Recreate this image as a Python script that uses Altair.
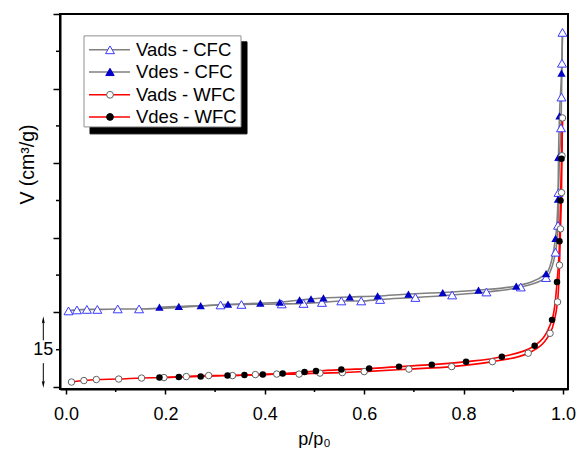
import altair as alt
import pandas as pd

# ---- data (x = p/p0, y = V in cm3/g, offset curves) ----
cfc_ads_x = [0.005, 0.022, 0.042, 0.063, 0.104, 0.147, 0.311, 0.353, 0.434, 0.478, 0.515,
             0.554, 0.594, 0.632, 0.703, 0.777, 0.846, 0.915, 0.966, 0.985, 0.990, 0.991,
             0.993, 0.996, 0.997, 0.998, 0.999]
cfc_ads_y = [15.3, 15.5, 15.6, 15.6, 15.7, 15.7, 16.5, 16.6, 16.7, 16.8, 17.0,
             17.3, 17.3, 17.6, 18.0, 18.5, 19.1, 20.1, 22.0, 27.1, 32.5, 39.1,
             46.3, 52.1, 58.3, 65.1, 71.3]

cfc_des_x = [0.188, 0.227, 0.271, 0.326, 0.391, 0.430, 0.470, 0.493, 0.518, 0.571, 0.627,
             0.689, 0.758, 0.830, 0.906, 0.966, 0.985, 0.990, 0.991, 0.993, 0.997]
cfc_des_y = [16.05, 16.2, 16.35, 16.65, 16.85, 17.05, 17.5, 17.7, 17.9, 18.1, 18.3,
             18.7, 19.0, 19.5, 20.3, 22.8, 29.9, 37.8, 46.2, 54.5, 63.1]

wfc_ads_x = [0.011, 0.036, 0.061, 0.106, 0.152, 0.197, 0.242, 0.287, 0.335, 0.381, 0.424,
             0.469, 0.511, 0.556, 0.600, 0.690, 0.776, 0.858, 0.930, 0.974, 0.989, 0.993,
             0.995, 0.997, 0.998, 0.999]
wfc_ads_y = [1.0, 1.3, 1.5, 1.6, 1.8, 1.9, 2.1, 2.3, 2.3, 2.5, 2.6,
             2.6, 2.8, 2.9, 3.1, 3.6, 4.1, 5.1, 6.8, 10.8, 17.1, 24.5,
             31.8, 39.1, 46.5, 54.1]

wfc_des_x = [0.188, 0.227, 0.271, 0.325, 0.359, 0.396, 0.436, 0.480, 0.503, 0.554, 0.610,
             0.670, 0.736, 0.805, 0.877, 0.943, 0.978, 0.988, 0.993, 0.995, 0.997]
wfc_des_y = [1.9, 2.0, 2.1, 2.3, 2.4, 2.5, 2.7, 3.0, 3.2, 3.5, 3.7,
             4.1, 4.5, 5.1, 6.1, 8.3, 13.5, 21.1, 29.3, 37.5, 45.9]

legend_labels = ["Vads - CFC", "Vdes - CFC", "Vads - WFC", "Vdes - WFC"]
legend_line_colors = ["#808080", "#808080", "#ff0000", "#ff0000"]
legend_shapes = ["triangle-up", "triangle-up", "circle", "circle"]
legend_fills = ["#ffffff", "#0000c8", "#ffffff", "#000000"]
legend_strokes = ["#3a3aff", "#0000c8", "#606060", "#000000"]
legend_sizes = [80, 70, 46, 46]

x_major = [0.0, 0.2, 0.4, 0.6, 0.8, 1.0]
x_minor = [0.1, 0.3, 0.5, 0.7, 0.9]
y_major = [0, 15, 30, 45, 60, 75]
y_minor = [7.5, 22.5, 37.5, 52.5, 67.5]
offset_label = "15"

FONT = "Liberation Sans"
W, H = 508, 375

def frame(xs, ys):
    return pd.DataFrame({"x": xs, "y": ys, "order": list(range(len(xs)))})

cfc_ads = frame(cfc_ads_x, cfc_ads_y)
cfc_des = frame(cfc_des_x, cfc_des_y)
wfc_ads = frame(wfc_ads_x, wfc_ads_y)
wfc_des = frame(wfc_des_x, wfc_des_y)
# desorption branches start from the top adsorption point
cfc_des_line = frame(cfc_des_x + [cfc_ads_x[-1]], cfc_des_y + [cfc_ads_y[-1]])
wfc_des_line = frame(wfc_des_x + [wfc_ads_x[-1]], wfc_des_y + [wfc_ads_y[-1]])

xs = alt.Scale(domain=[-0.0121, 1.0101], nice=False, zero=False)
ys = alt.Scale(domain=[-0.4, 75], nice=False, zero=False)

x_axis = alt.Axis(
    values=x_major, format=".1f", tickSize=5,
    title="p/p\u2080", titleBaseline="alphabetic", titleY=55,
    labelPadding=11, labelFlush=False,
)
y_axis = alt.Axis(
    values=y_major, labels=False, tickSize=7,
    title="V (cm\u00b3/g)", titleAngle=-90, titleAlign="center", titleBaseline="alphabetic",
    titleX=-27, titleY=150, titleFontSize=19.5,
)

def X(field="x", axis=None):
    if axis is None:
        return alt.X(f"{field}:Q", scale=xs)
    return alt.X(f"{field}:Q", scale=xs, axis=axis)

def Y(field="y", axis=None):
    if axis is None:
        return alt.Y(f"{field}:Q", scale=ys)
    return alt.Y(f"{field}:Q", scale=ys, axis=axis)

layers = []
# lines
layers.append(alt.Chart(cfc_ads).mark_line(color="#808080", strokeWidth=1.6, interpolate="monotone").encode(
    x=X(axis=x_axis), y=Y(axis=y_axis), order="order:Q"))
layers.append(alt.Chart(cfc_des_line).mark_line(color="#808080", strokeWidth=1.6, interpolate="monotone").encode(
    x=X(), y=Y(), order="order:Q"))
layers.append(alt.Chart(wfc_ads).mark_line(color="#ff0000", strokeWidth=1.6, interpolate="monotone").encode(
    x=X(), y=Y(), order="order:Q"))
layers.append(alt.Chart(wfc_des_line).mark_line(color="#ff0000", strokeWidth=1.6, interpolate="monotone").encode(
    x=X(), y=Y(), order="order:Q"))
# markers
layers.append(alt.Chart(cfc_ads).mark_point(shape="triangle-up", size=80, filled=False,
              stroke="#3a3aff", fill="#ffffff", fillOpacity=1, strokeWidth=1, opacity=1).encode(x=X(), y=Y()))
layers.append(alt.Chart(cfc_des).mark_point(shape="triangle-up", size=70, filled=True,
              color="#0000c8", opacity=1).encode(x=X(), y=Y()))
layers.append(alt.Chart(wfc_ads).mark_point(shape="circle", size=42, filled=False,
              stroke="#606060", fill="#ffffff", fillOpacity=1, strokeWidth=1, opacity=1).encode(x=X(), y=Y()))
layers.append(alt.Chart(wfc_des).mark_point(shape="circle", size=42, filled=True,
              color="#000000", opacity=1).encode(x=X(), y=Y()))

# minor ticks (outside the plot area)
xmin_df = pd.DataFrame({"x": x_minor})
layers.append(alt.Chart(xmin_df).mark_rule(color="black", strokeWidth=1.5).encode(
    x=X(), y=alt.value(H), y2=alt.value(H + 3)))
ymin_df = pd.DataFrame({"y": y_minor})
layers.append(alt.Chart(ymin_df).mark_rule(color="black", strokeWidth=1.5).encode(
    y=Y(), x=alt.value(0), x2=alt.value(-4)))

# offset annotation (arrow spanning 15 units on the V axis)
ann_x = -0.0457
arrow_df = pd.DataFrame({"x": [ann_x, ann_x], "y": [9.4, 4.8], "y2": [13.4, 0.6]})
layers.append(alt.Chart(arrow_df).mark_rule(color="black", strokeWidth=1).encode(
    x=X(), y=Y(), y2="y2:Q"))
heads_df = pd.DataFrame({"x": [ann_x], "y": [13.4]})
heads_df2 = pd.DataFrame({"x": [ann_x], "y": [0.6]})
layers.append(alt.Chart(heads_df).mark_point(
    shape="M0,-1L-0.38,0.8L0,0.45L0.38,0.8Z", size=64, filled=True, color="black", opacity=1
).encode(x=X(), y=Y()))
layers.append(alt.Chart(heads_df2).mark_point(
    shape="M0,1L-0.38,-0.8L0,-0.45L0.38,-0.8Z", size=64, filled=True, color="black", opacity=1
).encode(x=X(), y=Y()))
label_df = pd.DataFrame({"x": [ann_x], "y": [7.5], "t": [offset_label]})
layers.append(alt.Chart(label_df).mark_text(font=FONT, fontSize=18, color="black",
              align="center", baseline="middle").encode(x=X(), y=Y(), text="t:N"))

# legend (box with drop shadow, line + marker samples)
box = pd.DataFrame({"x": [0.0483, 0.0362], "x2": [0.3642, 0.3521],
                    "y": [50.9, 52.3], "y2": [69.4, 70.6],
                    "fill": ["#000000", "#ffffff"], "stroke": ["#000000", "#909090"]})
layers.append(alt.Chart(box).mark_rect(strokeWidth=1).encode(
    x=X(), x2="x2:Q", y=Y(), y2="y2:Q",
    fill=alt.Fill("fill:N", scale=None), stroke=alt.Stroke("stroke:N", scale=None),
    order=alt.Order("y:Q")))
row_y = [67.8, 63.35, 58.75, 54.3]
leg = pd.DataFrame({
    "label": legend_labels, "lc": legend_line_colors, "shape": legend_shapes,
    "fill": legend_fills, "stroke": legend_strokes, "size": legend_sizes,
    "y": row_y, "x": [0.0463] * 4, "x2": [0.1288] * 4, "xm": [0.0885] * 4, "xt": [0.1408] * 4,
})
layers.append(alt.Chart(leg).mark_rule(strokeWidth=1.6).encode(
    x=X(), x2="x2:Q", y=Y(), color=alt.Color("lc:N", scale=None)))
layers.append(alt.Chart(leg).transform_calculate(x="datum.xm").mark_point(
    strokeWidth=1, opacity=1, fillOpacity=1).encode(
    x=X(), y=Y(),
    shape=alt.Shape("shape:N", scale=None),
    fill=alt.Fill("fill:N", scale=None),
    stroke=alt.Stroke("stroke:N", scale=None),
    size=alt.Size("size:Q", scale=None)))
layers.append(alt.Chart(leg).transform_calculate(x="datum.xt").mark_text(
    font=FONT, fontSize=18.5, color="black", align="left", baseline="middle").encode(
    x=X(), y=Y(), text="label:N"))

chart = alt.layer(*layers).properties(
    width=W, height=H,
    padding={"left": 52, "top": 6, "right": 8, "bottom": 59},
    autosize=alt.AutoSizeParams(type="none"),
).configure_view(
    stroke="black", strokeWidth=2
).configure_axis(
    grid=False, domainColor="black", domainWidth=2, tickColor="black", tickWidth=1.5,
    labelFont=FONT, labelFontSize=18, labelColor="black",
    titleFont=FONT, titleFontSize=18, titleColor="black", titleFontWeight="normal",
)

chart.save("out.html", embed_options={"renderer": "svg", "actions": False})
